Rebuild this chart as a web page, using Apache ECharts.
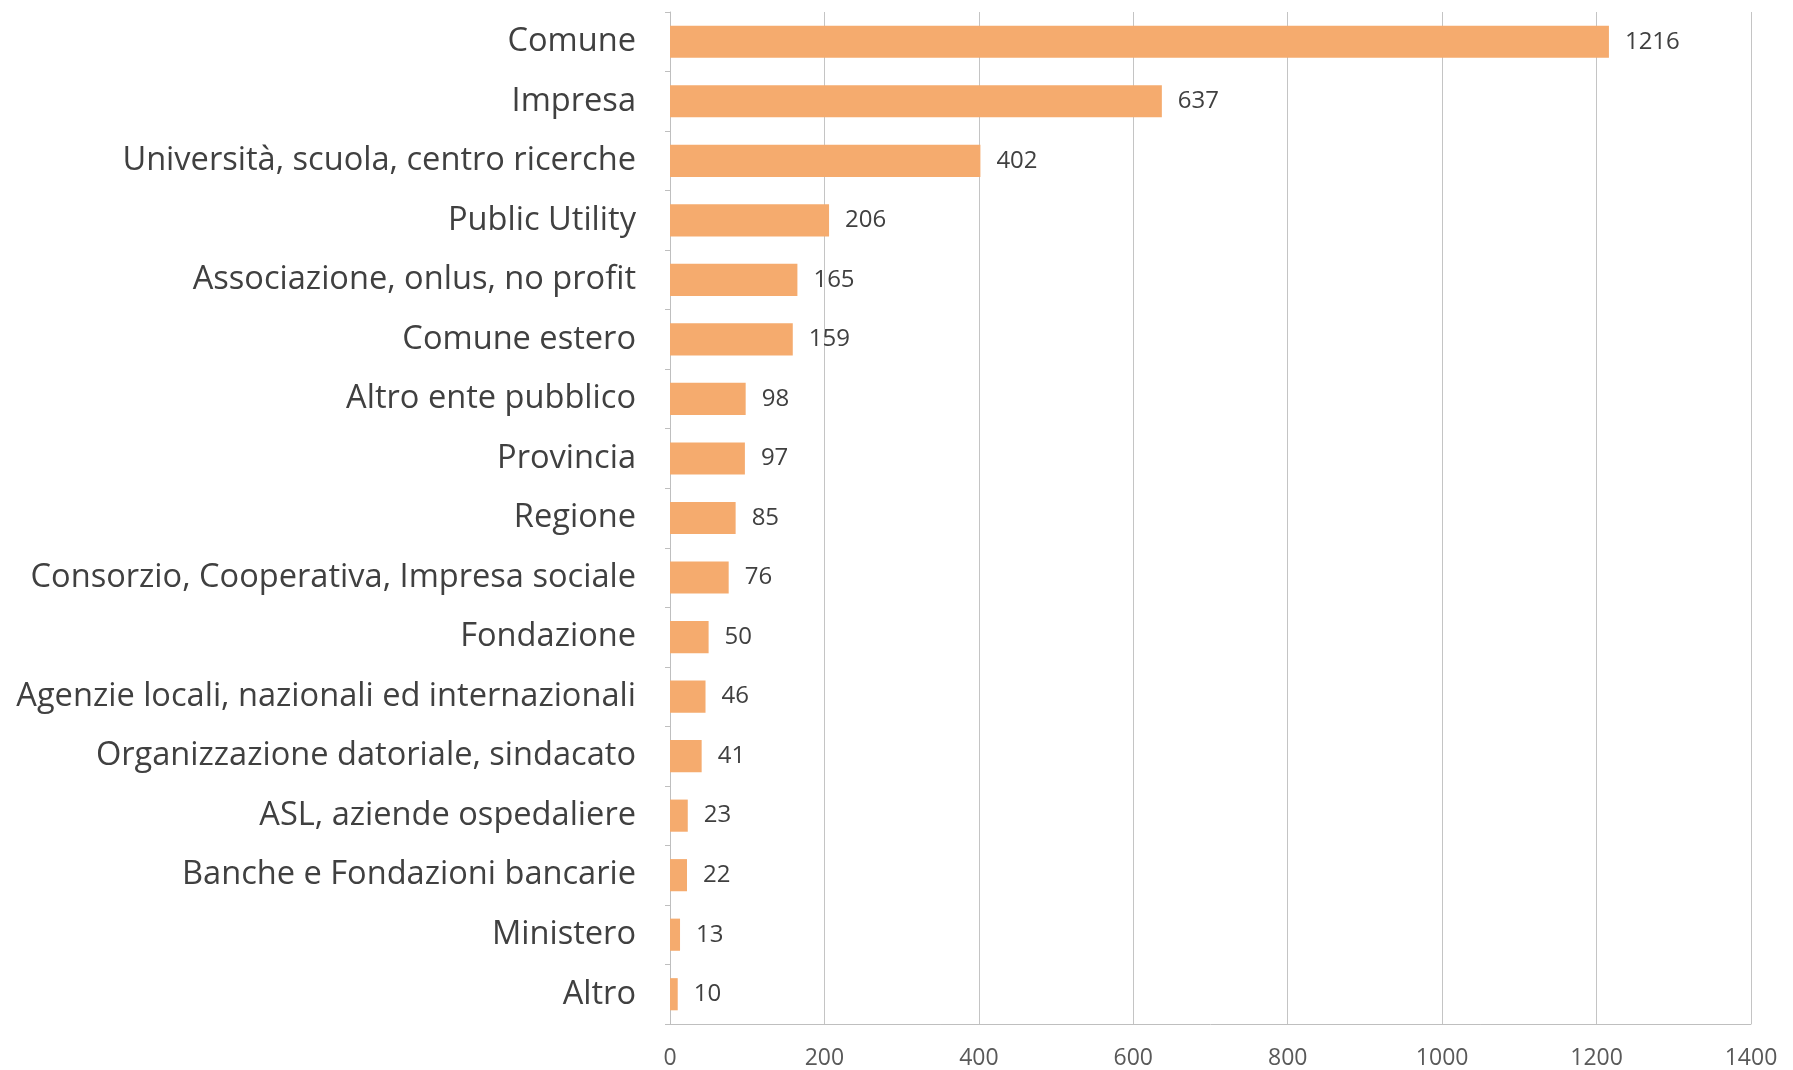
<!DOCTYPE html>
<html>
<head>
<meta charset="utf-8">
<script src="https://cdn.jsdelivr.net/npm/echarts@6/dist/echarts.min.js"></script>
<style>
  html, body { margin: 0; padding: 0; background: #fff; }
  #chart { width: 1793px; height: 1070px; }
</style>
</head>
<body>
<div id="chart"></div>
<script>
// Dati
const categorie = [
    'Comune',
    'Impresa',
    'Università, scuola, centro ricerche',
    'Public Utility',
    'Associazione, onlus, no profit',
    'Comune estero',
    'Altro ente pubblico',
    'Provincia',
    'Regione',
    'Consorzio, Cooperativa, Impresa sociale',
    'Fondazione',
    'Agenzie locali, nazionali ed internazionali',
    'Organizzazione datoriale, sindacato',
    'ASL, aziende ospedaliere',
    'Banche e Fondazioni bancarie',
    'Ministero',
    'Altro'
];
const valori = [1216, 637, 402, 206, 165, 159, 98, 97, 85, 76, 50, 46, 41, 23, 22, 13, 10];

const chart = echarts.init(document.getElementById('chart'));

const option = {
    animation: false,
    backgroundColor: '#ffffff',
    grid: {
        left: 670,
        right: 42,
        top: 12,
        bottom: 45
    },
    xAxis: {
        type: 'value',
        min: 0,
        max: 1400,
        interval: 200,
        axisLine: { show: true, lineStyle: { color: '#bfbfbf', width: 1 } },
        axisTick: { show: false },
        splitLine: { show: true, lineStyle: { color: '#c4c4c4', width: 1 } },
        axisLabel: {
            color: '#595959',
            fontFamily: 'Open Sans',
            fontSize: 23,
            margin: 23,
            formatter: v => String(v)
        }
    },
    yAxis: {
        type: 'category',
        inverse: true,
        data: categorie,
        axisLine: { show: true, lineStyle: { color: '#bfbfbf', width: 1 } },
        axisTick: { show: true, length: 5, lineStyle: { color: '#bfbfbf' } },
        axisLabel: {
            color: '#404040',
            fontFamily: 'Open Sans',
            fontSize: 32.6,
            margin: 34,
            backgroundColor: 'transparent',
            padding: [8, 0, 0, 0]
        }
    },
    series: [{
        type: 'bar',
        data: valori,
        barCategoryGap: '46%',
        itemStyle: { color: '#f5ab6e' },
        label: {
            show: true,
            position: 'right',
            distance: 16,
            color: '#404040',
            fontFamily: 'Open Sans',
            fontSize: 24,
            backgroundColor: 'transparent',
            padding: [6, 0, 0, 0]
        }
    }]
};

chart.setOption(option);
</script>
</body>
</html>
